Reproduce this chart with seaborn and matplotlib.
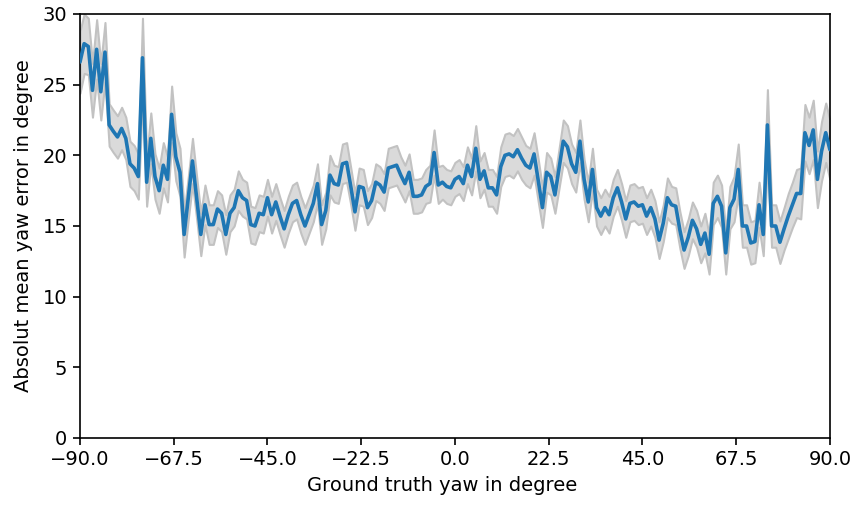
import numpy as np
import pandas as pd
import matplotlib
matplotlib.use("Agg")
import matplotlib.pyplot as plt
import seaborn as sns

yaw = list(range(-90, 91))
err = [
    26.6, 27.9, 27.7, 24.6, 27.5, 24.5, 27.3, 22.15, 21.7, 21.3,   # -90..-81
    21.9, 21.2, 19.4, 19.1, 18.5, 26.9, 18.1, 21.2, 18.5, 17.5,    # -80..-71
    19.3, 18.3, 22.9, 19.9, 18.8, 14.4, 17.0, 19.6, 17.0, 14.4,    # -70..-61
    16.5, 15.1, 15.1, 16.2, 15.9, 14.4, 15.9, 16.3, 17.5, 17.0,    # -60..-51
    16.8, 15.1, 15.0, 15.9, 15.8, 17.0, 15.8, 16.7, 15.7, 14.8,    # -50..-41
    15.8, 16.6, 16.8, 15.8, 15.0, 15.8, 16.6, 18.0, 15.1, 16.1,    # -40..-31
    18.6, 18.0, 17.9, 19.4, 19.5, 17.8, 16.0, 17.8, 17.7, 16.3,    # -30..-21
    16.8, 18.1, 17.9, 17.4, 19.1, 19.2, 19.3, 18.6, 18.0, 18.8,    # -20..-11
    17.1, 17.1, 17.2, 17.8, 18.0, 20.2, 17.9, 18.1, 17.8, 17.7,    # -10..-1
    18.3, 18.5, 18.0, 19.3, 18.5, 20.5, 18.3, 18.9, 17.7, 17.7,    # 0..9
    17.2, 19.2, 20.0, 20.1, 19.9, 20.4, 19.8, 19.3, 19.1, 20.1,    # 10..19
    18.2, 16.3, 18.8, 18.5, 17.2, 19.1, 21.0, 20.6, 19.4, 18.8,    # 20..29
    21.0, 18.3, 16.7, 19.0, 16.3, 15.7, 16.3, 15.8, 17.0, 17.7,    # 30..39
    16.7, 15.5, 16.6, 16.7, 16.4, 16.5, 15.7, 16.3, 15.5, 14.0,    # 40..49
    15.2, 17.0, 16.5, 16.4, 14.7, 13.3, 14.2, 15.4, 14.8, 13.7,    # 50..59
    14.5, 13.0, 16.6, 17.1, 16.4, 13.1, 16.3, 16.9, 19.0, 15.0,    # 60..69
    15.0, 13.8, 13.9, 16.5, 14.4, 22.15, 15.0, 15.0, 13.85, 14.8,  # 70..79
    15.7, 16.5, 17.3, 17.3, 21.6, 20.7, 21.8, 18.3, 20.3, 21.6,    # 80..89
    20.4,                                                          # 90
]
ci_half = [
    2.2, 2.1, 2.0, 1.9, 2.1, 2.0, 2.1, 1.5, 1.5, 1.5,
    1.5, 1.5, 1.6, 1.6, 1.6, 2.8, 1.7, 1.8, 1.6, 1.6,
    1.6, 1.6, 2.0, 1.7, 1.7, 1.6, 1.5, 1.6, 1.5, 1.5,
    1.4, 1.4, 1.4, 1.3, 1.3, 1.4, 1.3, 1.3, 1.4, 1.3,
    1.3, 1.3, 1.3, 1.3, 1.3, 1.3, 1.3, 1.3, 1.3, 1.3,
    1.3, 1.3, 1.3, 1.3, 1.3, 1.3, 1.3, 1.4, 1.4, 1.3,
    1.4, 1.3, 1.3, 1.4, 1.4, 1.3, 1.3, 1.3, 1.3, 1.2,
    1.2, 1.3, 1.3, 1.3, 1.4, 1.4, 1.4, 1.3, 1.3, 1.3,
    1.2, 1.2, 1.2, 1.2, 1.3, 1.6, 1.3, 1.2, 1.2, 1.2,
    1.2, 1.2, 1.2, 1.3, 1.3, 1.6, 1.3, 1.3, 1.3, 1.3,
    1.3, 1.4, 1.5, 1.5, 1.5, 1.5, 1.5, 1.4, 1.4, 1.5,
    1.5, 1.4, 1.4, 1.3, 1.3, 1.4, 1.5, 1.5, 1.4, 1.4,
    1.5, 1.4, 1.4, 1.5, 1.3, 1.3, 1.3, 1.3, 1.3, 1.3,
    1.3, 1.3, 1.3, 1.3, 1.3, 1.3, 1.3, 1.3, 1.3, 1.3,
    1.3, 1.4, 1.3, 1.3, 1.3, 1.3, 1.3, 1.3, 1.3, 1.3,
    1.4, 1.4, 1.5, 1.5, 1.5, 1.5, 1.5, 1.6, 1.8, 1.5,
    1.5, 1.5, 1.5, 1.6, 1.5, 2.5, 1.5, 1.5, 1.5, 1.5,
    1.6, 1.6, 1.7, 1.8, 2.0, 2.0, 2.1, 2.0, 2.1, 2.1,
    2.1,
]

x_ticks = [-90.0, -67.5, -45.0, -22.5, 0.0, 22.5, 45.0, 67.5, 90.0]
y_ticks = [0, 5, 10, 15, 20, 25, 30]

sns.set_style("ticks")
plt.rcParams["font.family"] = ["DejaVu Sans"]
plt.rcParams["axes.unicode_minus"] = True
plt.rcParams["axes.labelcolor"] = "black"
plt.rcParams["text.color"] = "black"

df = pd.DataFrame({"yaw": yaw, "err": err, "half": ci_half})
df["lo"] = df["err"] - df["half"]
df["hi"] = df["err"] + df["half"]

fig = plt.figure(figsize=(8.6, 5.09), dpi=100)
ax = fig.add_axes([0.093, 0.1395, 0.872, 0.833])

ax.fill_between(df["yaw"], df["lo"], df["hi"], facecolor="#dadada",
                edgecolor="#c2c2c2", linewidth=1.5, zorder=1)
sns.lineplot(data=df, x="yaw", y="err", ax=ax, color="#1f77b4",
             linewidth=2.6, zorder=3)

ax.set_xlim(-90, 90)
ax.set_ylim(0, 30)
ax.set_xticks(x_ticks)
ax.set_yticks(y_ticks)
ax.set_xticklabels([f"{v:.1f}".replace("-", "\u2212") for v in x_ticks])
ax.set_xlabel("Ground truth yaw in degree", fontsize=14, labelpad=5,
              color="black")
ax.xaxis.label.set_x(0.483)
ax.set_ylabel("Absolut mean yaw error in degree", fontsize=14, labelpad=7,
              color="black")
ax.tick_params(axis="both", labelsize=14, length=5, width=1.2, color="black",
               labelcolor="black", direction="out", pad=4)
for s in ax.spines.values():
    s.set_visible(True)
    s.set_linewidth(1.2)
    s.set_color("black")

fig.savefig("out.png", dpi=100)
